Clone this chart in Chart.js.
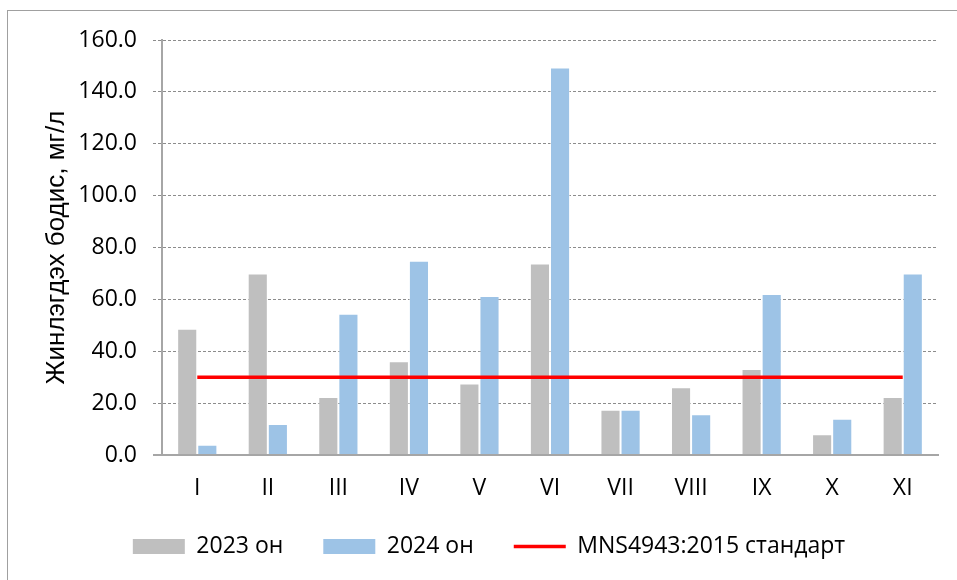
<!DOCTYPE html>
<html><head><meta charset="utf-8">
<script src="https://cdn.jsdelivr.net/npm/chart.js@4"></script>
<style>html,body{margin:0;padding:0;background:#fff}#wrap{width:957px;height:580px;position:relative}</style>
</head><body><div id="wrap"><canvas id="c" width="957" height="580"></canvas></div>
<script>
const categories = ['I','II','III','IV','V','VI','VII','VIII','IX','X','XI'];
const values2023 = [48.7, 70.0, 22.4, 36.1, 27.6, 73.8, 17.4, 26.1, 33.2, 8.0, 22.4];
const values2024 = [4.0, 12.0, 54.5, 74.9, 61.3, 149.4, 17.4, 15.7, 62.1, 14.0, 70.0];
const standardValues = [30, 30, 30, 30, 30, 30, 30, 30, 30, 30, 30];
const seriesLabels = ['2023 он', '2024 он', 'MNS4943:2015 стандарт'];
const yAxisTitle = 'Жинлэгдэх бодис, мг/л';
const yMin = 0, yMax = 160, yStep = 20;

const tickFont = { family: "'Open Sans', sans-serif", size: 23 };

const framePlugin = {
  id: 'frame',
  beforeDraw(chart) {
    const ctx = chart.ctx;
    ctx.save();
    ctx.fillStyle = '#ffffff';
    ctx.fillRect(0, 0, chart.width, chart.height);
    ctx.strokeStyle = '#a0a0a0';
    ctx.lineWidth = 1;
    ctx.strokeRect(7.5, 10.5, 1000, 700);
    ctx.restore();
  }
};

new Chart(document.getElementById('c'), {
  type: 'bar',
  data: {
    labels: categories,
    datasets: [
      { type: 'bar', label: seriesLabels[0], data: values2023, backgroundColor: '#BFBFBF', borderColor: 'rgba(255,255,255,0.5)', borderWidth: 1, pointStyle: 'rect', order: 1 },
      { type: 'bar', label: seriesLabels[1], data: values2024, backgroundColor: '#9DC3E6', borderColor: 'rgba(255,255,255,0.5)', borderWidth: 1, pointStyle: 'rect', order: 1 },
      { type: 'line', label: seriesLabels[2], data: standardValues, borderColor: '#FF0000', backgroundColor: '#FF0000', borderWidth: 3.5, pointRadius: 0, pointStyle: 'line', fill: false, order: 0 }
    ]
  },
  options: {
    responsive: false,
    devicePixelRatio: 1,
    animation: false,
    layout: { padding: { left: 40, top: 40, right: 19, bottom: 12 } },
    datasets: { bar: { categoryPercentage: 0.57, barPercentage: 1.0 } },
    plugins: {
      tooltip: { enabled: false },
      legend: {
        position: 'bottom',
        labels: {
          font: tickFont,
          color: '#000',
          usePointStyle: true,
          pointStyleWidth: 52,
          boxHeight: 15,
          padding: 40,
          generateLabels: (chart) => {
            const items = Chart.defaults.plugins.legend.labels.generateLabels(chart);
            items.forEach(it => { if (it.pointStyle === 'rect') it.lineWidth = 0; });
            return items;
          },
          sort: (a, b) => a.datasetIndex - b.datasetIndex
        }
      }
    },
    scales: {
      x: {
        offset: true,
        afterFit: (s) => { s.height = 40; },
        grid: { display: false, drawTicks: false },
        border: { display: true, color: '#a6a6a6', width: 2 },
        ticks: { font: tickFont, color: '#000', padding: 20, maxRotation: 0 }
      },
      y: {
        min: yMin, max: yMax,
        afterFit: (s) => { s.width = 122; },
        title: { display: true, text: yAxisTitle, color: '#000', font: { family: "'Liberation Sans', Arial, sans-serif", size: 26 }, padding: { top: 1, bottom: 0 } },
        grid: {
          color: (c) => (c.tick && c.tick.value === 0) ? '#a6a6a6' : '#8c8c8c',
          lineWidth: (c) => (c.tick && c.tick.value === 0) ? 2 : 1,
          tickLength: 9,
          tickColor: (c) => (c.tick && c.tick.value === 0) ? '#a6a6a6' : '#8c8c8c',
          tickBorderDash: (c) => (c.tick && c.tick.value === 0) ? [] : [3, 2]
        },
        border: { display: true, color: '#a6a6a6', width: 2, dash: (c) => (c.tick && c.tick.value === 0) ? [] : [3, 2] },
        ticks: { stepSize: yStep, font: tickFont, color: '#000', padding: 16, callback: (v) => Number(v).toFixed(1) }
      }
    }
  },
  plugins: [framePlugin]
});
</script></body></html>
